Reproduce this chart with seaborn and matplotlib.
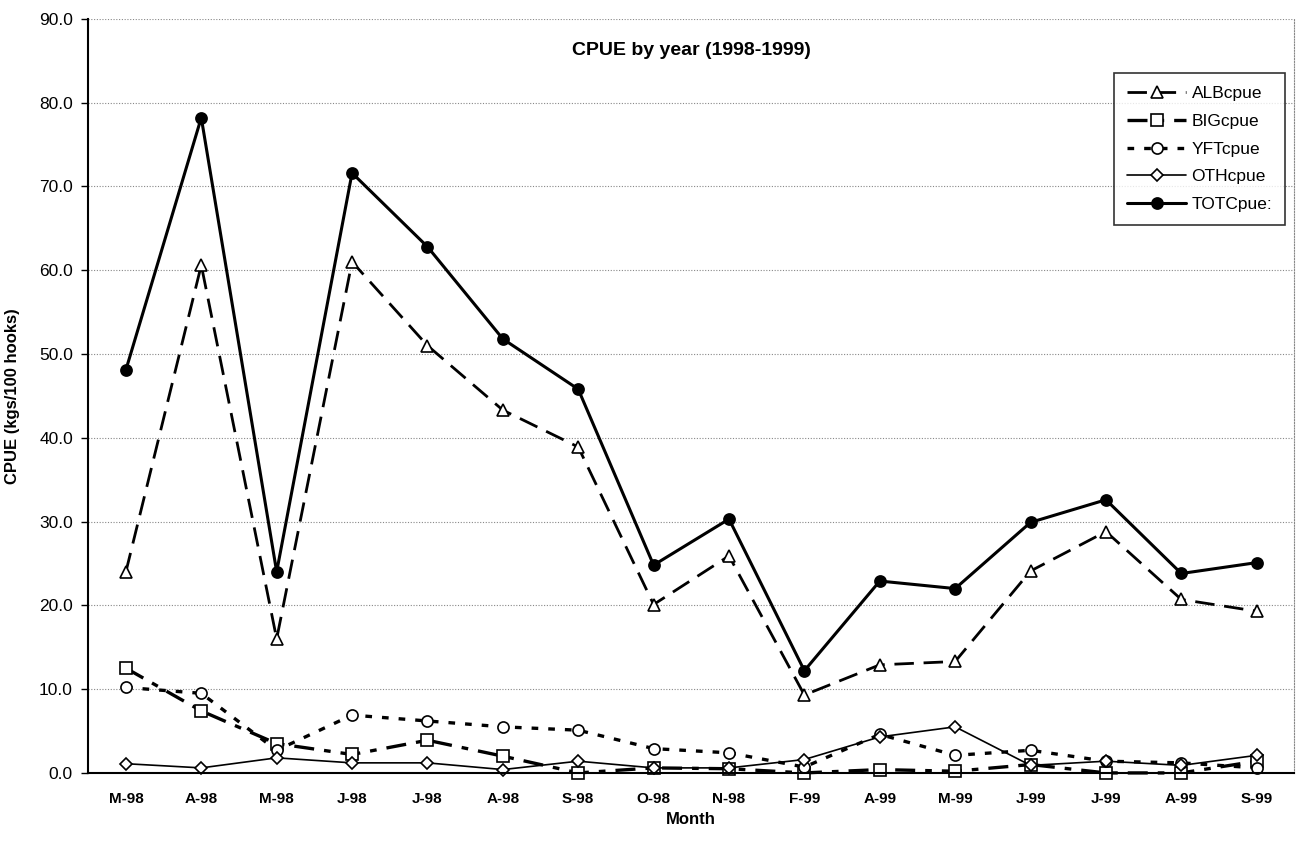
import numpy as np
import pandas as pd
import matplotlib
matplotlib.use('Agg')
import matplotlib.pyplot as plt
import seaborn as sns

# Month labels along the x axis (categorical, duplicates allowed)
months = ['M-98', 'A-98', 'M-98', 'J-98', 'J-98', 'A-98', 'S-98', 'O-98',
          'N-98', 'F-99', 'A-99', 'M-99', 'J-99', 'J-99', 'A-99', 'S-99']

# CPUE values (kgs/100 hooks)
alb_cpue = [24.0, 60.6, 16.0, 61.0, 51.0, 43.3, 38.9, 20.1,
            25.9, 9.3, 12.9, 13.3, 24.1, 28.8, 20.7, 19.3]
big_cpue = [12.5, 7.4, 3.5, 2.2, 3.9, 2.0, 0.0, 0.6,
            0.5, 0.0, 0.4, 0.2, 1.0, 0.0, 0.0, 1.4]
yft_cpue = [10.2, 9.5, 2.7, 6.9, 6.2, 5.5, 5.1, 2.9,
            2.4, 0.7, 4.6, 2.1, 2.7, 1.4, 1.2, 0.6]
oth_cpue = [1.1, 0.6, 1.8, 1.2, 1.2, 0.4, 1.4, 0.6,
            0.6, 1.6, 4.3, 5.5, 0.9, 1.4, 0.9, 2.1]
tot_cpue = [48.1, 78.2, 24.0, 71.6, 62.8, 51.8, 45.8, 24.8,
            30.3, 12.2, 22.9, 22.0, 29.9, 32.6, 23.8, 25.1]

series_names = ['ALBcpue', 'BIGcpue', 'YFTcpue', 'OTHcpue', 'TOTCpue:']

sns.set_style('white')
plt.rcParams['font.family'] = ['Liberation Sans', 'DejaVu Sans']
plt.rcParams['text.color'] = 'black'
plt.rcParams['axes.labelcolor'] = 'black'
plt.rcParams['xtick.color'] = 'black'
plt.rcParams['ytick.color'] = 'black'

df = pd.DataFrame({'pos': np.arange(len(months)), 'month': months,
                   'ALBcpue': alb_cpue, 'BIGcpue': big_cpue,
                   'YFTcpue': yft_cpue, 'OTHcpue': oth_cpue,
                   'TOTCpue:': tot_cpue})

styles = {
    'ALBcpue': dict(marker='^', linestyle=(0, (7, 3.5)), lw=2.0, ms=8, mfc='white'),
    'BIGcpue': dict(marker='s', linestyle=(0, (6, 3, 2, 3)), lw=2.4, ms=8, mfc='white'),
    'YFTcpue': dict(marker='o', linestyle=(0, (2, 3)), lw=2.4, ms=8, mfc='white'),
    'OTHcpue': dict(marker='D', linestyle='-', lw=1.2, ms=6.5, mfc='white'),
    'TOTCpue:': dict(marker='o', linestyle='-', lw=2.2, ms=8, mfc='black'),
}

fig = plt.figure(figsize=(12.97, 8.55), dpi=100)
ax = fig.add_axes([0.068, 0.096, 0.930, 0.882])

for name in series_names:
    st = styles[name]
    sns.lineplot(data=df, x='pos', y=name, ax=ax, color='black',
                 marker=st['marker'], linestyle=st['linestyle'], linewidth=st['lw'],
                 markersize=st['ms'], markerfacecolor=st['mfc'],
                 markeredgecolor='black', markeredgewidth=1.2,
                 label=name, clip_on=False)

ax.set_xlim(-0.5, len(months) - 0.5)
ax.set_ylim(0, 90)
ax.set_yticks(np.arange(0, 91, 10))
ax.set_yticklabels([f'{v:.1f}' for v in np.arange(0, 91, 10)], fontsize=12.5)
ax.set_xticks(np.arange(len(months)))
ax.set_xticklabels(months, fontsize=11, fontweight='bold')
ax.set_xticks(np.arange(-0.5, len(months)), minor=True)
ax.tick_params(axis='x', which='major', length=0, pad=14)
ax.tick_params(axis='x', which='minor', length=5, width=1, direction='out')
ax.tick_params(axis='y', length=5, width=1, direction='out', left=True, pad=6)

ax.yaxis.grid(True, linestyle=(0, (1, 1.5)), color='#888888', linewidth=0.8)
for side in ['left', 'bottom']:
    ax.spines[side].set_color('black')
    ax.spines[side].set_linewidth(1.5)
ax.spines['top'].set_visible(False)
ax.spines['right'].set_linestyle((0, (1, 1.5)))
ax.spines['right'].set_color('#888888')
ax.spines['right'].set_linewidth(0.8)

ax.set_xlabel('Month', fontsize=12, fontweight='bold', labelpad=4)
ax.set_ylabel('CPUE (kgs/100 hooks)', fontsize=12, fontweight='bold', labelpad=14)
ax.text(0.5, 0.958, 'CPUE by year (1998-1999)', transform=ax.transAxes,
        ha='center', va='center', fontsize=14, fontweight='bold')

leg = ax.legend(loc='upper right', bbox_to_anchor=(0.9925, 0.928), fontsize=12.5,
                handlelength=3.4, handletextpad=0.3, labelspacing=0.72,
                frameon=True, fancybox=False, borderpad=0.75, borderaxespad=0)
leg.get_frame().set_edgecolor('black')
leg.get_frame().set_linewidth(1.2)

fig.savefig('out.png', dpi=100)
